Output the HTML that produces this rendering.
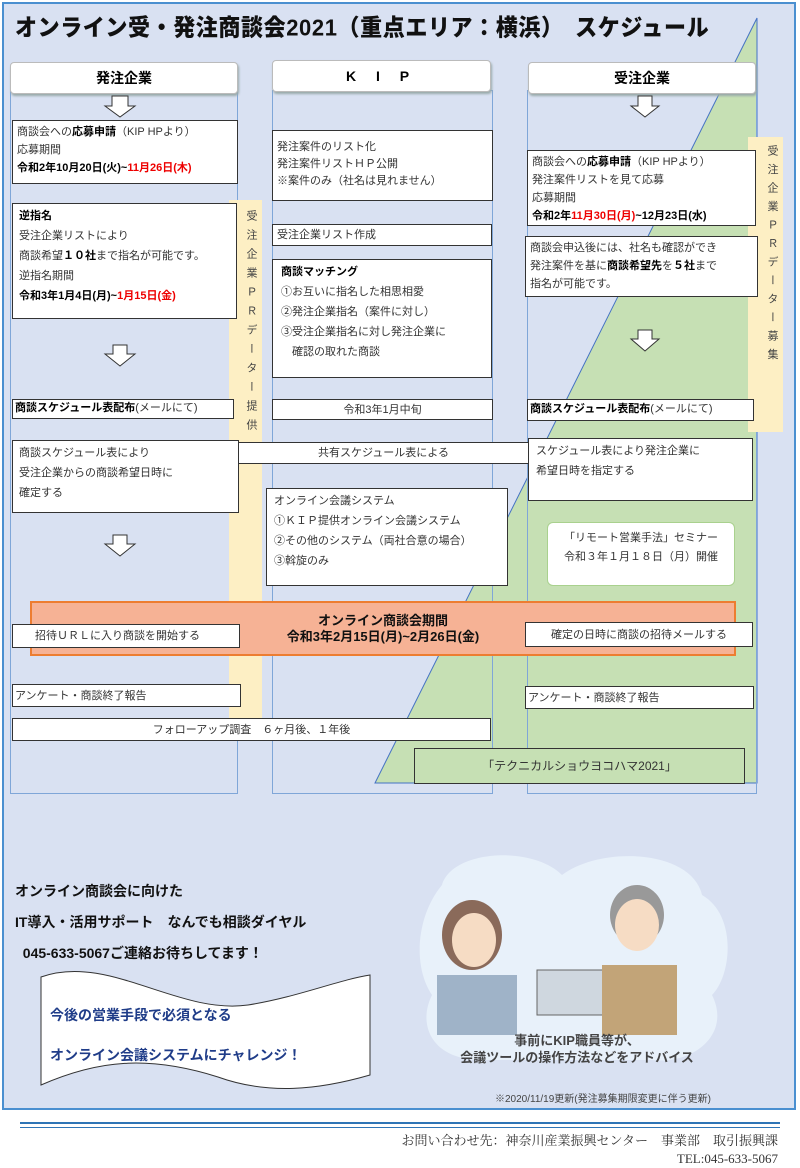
<!DOCTYPE html>
<html><head><meta charset="utf-8"><style>
body{margin:0;width:800px;height:1168px;background:#fff;position:relative;font-family:"Liberation Sans","Noto Sans CJK JP",sans-serif;overflow:hidden}
.a{position:absolute}
.b{position:absolute;background:#fff;border:1px solid #333;font-size:11px;line-height:19px;color:#333;padding:2px 4px;box-sizing:border-box}
.col{position:absolute;border:1px solid #7fa6d8;box-sizing:border-box}
.hd{position:absolute;background:#fff;border:1px solid #bbb;border-radius:4px;box-shadow:1px 2px 2px #9aa;font-size:14px;font-weight:bold;text-align:center;line-height:30px;box-sizing:border-box}
.r{color:#e00;font-weight:bold}
b{color:#000}
.ys{position:absolute;background:#fdefc4;font-size:11px;color:#444;line-height:23px;writing-mode:vertical-rl;text-orientation:upright;text-align:start;box-sizing:border-box}
</style></head><body>
<div class="a" style="left:2px;top:2px;width:794px;height:1108px;background:#d9e1f2;border:2px solid #4a8fd0;box-sizing:border-box"></div>
<svg class="a" style="left:0;top:0" width="800" height="800"><polygon points="757,18 757,783 375,783" fill="#c6e0b4" stroke="#4472c4" stroke-width="1"/></svg>
<div class="a" style="left:15px;top:10px;font-size:22px;font-weight:900;color:#111;letter-spacing:0.6px;transform:scaleY(1.05)">オンライン受・発注商談会2021（重点エリア：横浜）　スケジュール</div>
<div class="col" style="left:10px;top:90px;width:228px;height:704px"></div>
<div class="col" style="left:272px;top:90px;width:221px;height:704px"></div>
<div class="col" style="left:527px;top:90px;width:230px;height:704px"></div>
<div class="hd" style="left:10px;top:62px;width:228px;height:32px">発注企業</div>
<div class="hd" style="left:272px;top:60px;width:219px;height:32px;letter-spacing:8px">K I P</div>
<div class="hd" style="left:528px;top:62px;width:228px;height:32px">受注企業</div>
<svg class="a" style="left:0;top:0" width="800" height="800" fill="#fff" stroke="#333" stroke-width="1">
<polygon points="112,96 128,96 128,106 135,106 120,117 105,106 112,106"/>
<polygon points="638,96 652,96 652,106 659,106 645,117 631,106 638,106"/>
<polygon points="113,345 127,345 127,354 135,354 120,366 105,354 113,354"/>
<polygon points="638,330 652,330 652,339 659,339 645,351 631,339 638,339"/>
<polygon points="113,535 127,535 127,544 135,544 120,556 105,544 113,544"/>
</svg>
<div class="ys" style="left:229px;top:200px;width:33px;height:518px;padding-top:10px;letter-spacing:8px">受注企業ＰＲデーター提供</div>
<div class="ys" style="left:748px;top:137px;width:35px;height:295px;padding-top:8px;letter-spacing:7.5px">受注企業ＰＲデーター募集</div>
<div class="b" style="left:12px;top:120px;width:226px;height:64px;line-height:18px">商談会への<b>応募申請</b>（KIP HPより）<br>応募期間<br><b>令和2年10月20日(火)~</b><span class="r">11月26日(木)</span></div>
<div class="b" style="left:12px;top:203px;width:225px;height:116px;line-height:20px;padding-left:6px"><b>逆指名</b><br>受注企業リストにより<br>商談希望<b>１０社</b>まで指名が可能です。<br>逆指名期間<br><b>令和3年1月4日(月)~</b><span class="r">1月15日(金)</span></div>
<div class="b" style="left:12px;top:399px;width:222px;height:20px;line-height:15px;padding:1px 2px"><b>商談スケジュール表配布</b>(メールにて)</div>
<div class="b" style="left:12px;top:440px;width:227px;height:73px;line-height:20px;padding-left:6px">商談スケジュール表により<br>受注企業からの商談希望日時に<br>確定する</div>
<div class="b" style="left:272px;top:130px;width:221px;height:71px;line-height:17px;padding-top:8px">発注案件のリスト化<br>発注案件リストＨＰ公開<br>※案件のみ（社名は見れません）</div>
<div class="b" style="left:272px;top:224px;width:220px;height:22px;line-height:17px">受注企業リスト作成</div>
<div class="b" style="left:272px;top:259px;width:220px;height:119px;line-height:20px;padding-left:8px"><b>商談マッチング</b><br>①お互いに指名した相思相愛<br>②発注企業指名（案件に対し）<br>③受注企業指名に対し発注企業に<br>　確認の取れた商談</div>
<div class="b" style="left:272px;top:399px;width:221px;height:21px;line-height:16px;text-align:center">令和3年1月中旬</div>
<div class="b" style="left:238px;top:442px;width:291px;height:22px;line-height:17px;text-align:center">共有スケジュール表による</div>
<div class="b" style="left:266px;top:488px;width:242px;height:98px;line-height:20px;padding-left:7px">オンライン会議システム<br>①ＫＩＰ提供オンライン会議システム<br>②その他のシステム（両社合意の場合）<br>③斡旋のみ</div>
<div class="b" style="left:527px;top:150px;width:229px;height:76px;line-height:18px">商談会への<b>応募申請</b>（KIP HPより）<br>発注案件リストを見て応募<br>応募期間<br><b>令和2年</b><span class="r">11月30日(月)</span><b>~12月23日(水)</b></div>
<div class="b" style="left:525px;top:236px;width:233px;height:61px;line-height:18px">商談会申込後には、社名も確認ができ<br>発注案件を基に<b>商談希望先</b>を<b>５社</b>まで<br>指名が可能です。</div>
<div class="b" style="left:527px;top:399px;width:227px;height:22px;line-height:16px;padding:1px 2px"><b>商談スケジュール表配布</b>(メールにて)</div>
<div class="b" style="left:528px;top:438px;width:225px;height:63px;line-height:20px;padding-left:7px">スケジュール表により発注企業に<br>希望日時を指定する</div>
<div class="b" style="left:547px;top:522px;width:188px;height:64px;border:1.5px solid #a9d18e;border-radius:6px;text-align:center;line-height:19px;padding-top:6px">「リモート営業手法」セミナー<br>令和３年１月１８日（月）開催</div>
<div class="a" style="left:30px;top:601px;width:706px;height:55px;background:#f6b295;border:2px solid #ed7d31;box-sizing:border-box;text-align:center;font-weight:bold;font-size:13px;line-height:16px;padding-top:10px;color:#111">オンライン商談会期間<br>令和3年2月15日(月)~2月26日(金)</div>
<div class="b" style="left:12px;top:624px;width:228px;height:24px;line-height:19px;padding-left:22px">招待ＵＲＬに入り商談を開始する</div>
<div class="b" style="left:525px;top:622px;width:228px;height:25px;line-height:20px;text-align:center">確定の日時に商談の招待メールする</div>
<div class="b" style="left:12px;top:684px;width:229px;height:23px;line-height:18px;padding-left:2px">アンケート・商談終了報告</div>
<div class="b" style="left:525px;top:686px;width:229px;height:23px;line-height:18px;padding-left:2px">アンケート・商談終了報告</div>
<div class="b" style="left:12px;top:718px;width:479px;height:23px;line-height:18px;text-align:center">フォローアップ調査　６ヶ月後、１年後</div>
<div class="b" style="left:414px;top:748px;width:331px;height:36px;background:#c6e0b4;line-height:30px;text-align:center;font-size:12px">「テクニカルショウヨコハマ2021」</div>
<div class="a" style="left:15px;top:876px;font-size:14px;font-weight:bold;line-height:31px;color:#111">オンライン商談会に向けた<br>IT導入・活用サポート　なんでも相談ダイヤル<br>&nbsp;&nbsp;045-633-5067ご連絡お待ちしてます！</div>
<svg class="a" style="left:38px;top:965px" width="335" height="130"><path d="M3,12 C70,-12 140,50 210,40 C260,32 300,15 332,10 L332,110 C280,125 230,130 180,112 C110,90 60,95 3,120 Z" fill="#fff" stroke="#333" stroke-width="1"/></svg>
<div class="a" style="left:50px;top:995px;font-size:14px;font-weight:bold;color:#1f3c88;line-height:40px">今後の営業手段で必須となる<br>オンライン会議システムにチャレンジ！</div>
<svg class="a" style="left:412px;top:845px" width="325" height="225">
<path d="M30,40 C40,5 120,0 150,30 C190,0 280,5 290,50 C325,70 320,130 300,150 C320,190 280,220 240,215 L70,215 C20,215 5,180 20,150 C0,120 5,70 30,40Z" fill="#e8f1fa"/>
<ellipse cx="60" cy="90" rx="30" ry="35" fill="#8a6a5a"/><ellipse cx="62" cy="95" rx="22" ry="27" fill="#f6dcc4"/>
<rect x="25" y="130" width="80" height="60" fill="#9fb3c8"/>
<rect x="125" y="125" width="70" height="45" fill="#cfd7df" stroke="#666"/>
<ellipse cx="225" cy="70" rx="27" ry="30" fill="#999"/><ellipse cx="225" cy="80" rx="22" ry="26" fill="#f6dcc4"/>
<rect x="190" y="120" width="75" height="70" fill="#c2a478"/>
<text x="165" y="200" text-anchor="middle" font-size="13" font-weight="bold" fill="#444" font-family="Liberation Sans,Noto Sans CJK JP,sans-serif">事前にKIP職員等が、</text>
<text x="165" y="217" text-anchor="middle" font-size="13" font-weight="bold" fill="#444" font-family="Liberation Sans,Noto Sans CJK JP,sans-serif">会議ツールの操作方法などをアドバイス</text>
</svg>
<div class="a" style="left:495px;top:1090px;font-size:10px;color:#444">※2020/11/19更新(発注募集期限変更に伴う更新)</div>
<div class="a" style="left:20px;top:1122px;width:760px;height:2px;background:#2e75b6"></div>
<div class="a" style="left:20px;top:1127px;width:760px;height:1px;background:#2e75b6"></div>
<div class="a" style="right:22px;top:1130px;font-size:13px;color:#333;font-family:'Liberation Serif','Noto Serif CJK SC',serif">お問い合わせ先：神奈川産業振興センター　事業部　取引振興課</div>
<div class="a" style="right:22px;top:1151px;font-size:13px;color:#333;font-family:'Liberation Serif','Noto Serif CJK SC',serif">TEL:045-633-5067</div>
</body></html>
